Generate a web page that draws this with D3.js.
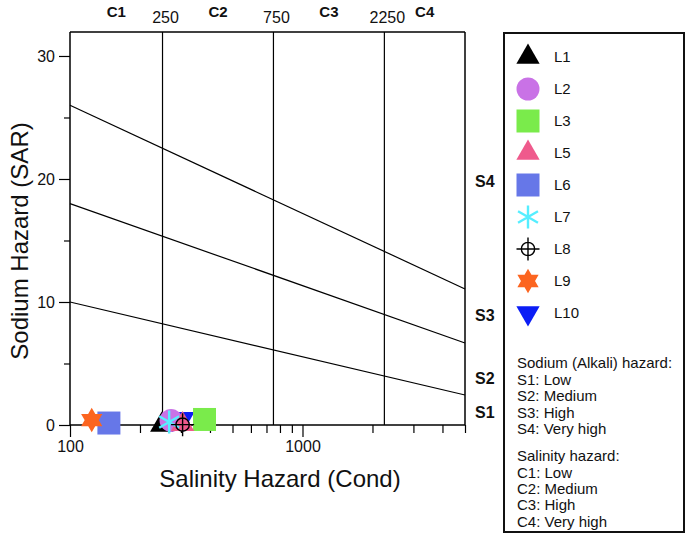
<!DOCTYPE html>
<html>
<head>
<meta charset="utf-8">
<script src="https://cdn.jsdelivr.net/npm/d3@7"></script>
<style>
  body { margin: 0; background: #fff; }
  svg { display: block; font-family: "Liberation Sans", Arial, Helvetica, sans-serif; }
</style>
</head>
<body>
<svg id="chart" width="690" height="543"></svg>
<script>
// ---------- data ----------
const categories = ["L1", "L2", "L3", "L5", "L6", "L7", "L8", "L9", "L10"];
const condValues = [248, 272, 379, 305, 147, 267, 305, 124, 306];
const sarValues  = [0.0, 0.37, 0.45, 0.05, 0.16, 0.25, 0.03, 0.4, 0.5];
const colors = ["#000000", "#c972e6", "#7aeb4b", "#ef5a8c", "#6677e8", "#55eeff", "#000000", "#fc6520", "#0b1df5"];
const symbolNames = ["triangle", "circle", "square", "triangle", "square", "asterisk", "crosshair", "hexagram", "triangleDown"];
const drawOrder = ["L1", "L10", "L2", "L3", "L5", "L6", "L7", "L8", "L9"];

const salinityBreaks = [250, 750, 2250];
const salinityClasses = ["C1", "C2", "C3", "C4"];
const xTickLabels = [100, 1000];
const xMinorTicks = [200, 300, 400, 500, 600, 700, 800, 900, 2000, 3000, 4000, 5000];
const yTickLabels = [0, 10, 20, 30];
const yMinorTicks = [5, 15, 25];

// sodium hazard boundary lines: SAR at cond = 100 and cond = 5000
const sodiumLineStart = [10, 18, 26];
const sodiumLineEnd = [2.44, 6.67, 11.06];
const sodiumClasses = ["S1", "S2", "S3", "S4"];
const sodiumLabelSar = [1.0, 3.8, 8.9, 19.8];

const legendNotes1 = ["Sodium (Alkali) hazard:", "S1: Low", "S2: Medium", "S3: High", "S4: Very high"];
const legendNotes2 = ["Salinity hazard:", "C1: Low", "C2: Medium", "C3: High", "C4: Very high"];

// ---------- layout ----------
const svg = d3.select("#chart");
const plot = { left: 70, right: 465, top: 32, bottom: 425 };
const x = d3.scaleLog().domain([100, 5000]).range([plot.left, plot.right]);
const y = d3.scaleLinear().domain([0, 31.95]).range([plot.bottom, plot.top]);

// ---------- custom symbols ----------
const hexagram = {
  draw(ctx, size) {
    const r = Math.sqrt(size) * 0.56;
    for (let k = 0; k < 2; k++) {
      const off = k === 0 ? -Math.PI / 2 : Math.PI / 2;
      for (let i = 0; i < 3; i++) {
        const a = off + i * 2 * Math.PI / 3;
        const px = r * Math.cos(a), py = r * Math.sin(a);
        if (i === 0) ctx.moveTo(px, py); else ctx.lineTo(px, py);
      }
      ctx.closePath();
    }
  }
};
const crosshair = {
  draw(ctx, size) {
    const L = Math.sqrt(size) / 2;
    const r = L * 0.58;
    ctx.moveTo(r, 0);
    ctx.arc(0, 0, r, 0, 2 * Math.PI);
    ctx.moveTo(-L, 0); ctx.lineTo(L, 0);
    ctx.moveTo(0, -L); ctx.lineTo(0, L);
  }
};
const asterisk = {
  draw(ctx, size) {
    const L = Math.sqrt(size) / 2;
    for (let i = 0; i < 3; i++) {
      const a = -Math.PI / 2 + i * Math.PI / 3;
      ctx.moveTo(L * Math.cos(a), L * Math.sin(a));
      ctx.lineTo(-L * Math.cos(a), -L * Math.sin(a));
    }
  }
};
const symbolDefs = {
  triangle:     { type: d3.symbolTriangle, size: 235, rotate: 0, fill: true },
  triangleDown: { type: d3.symbolTriangle, size: 235, rotate: 180, fill: true },
  circle:       { type: d3.symbolCircle, size: 415, rotate: 0, fill: true },
  square:       { type: d3.symbolSquare, size: 529, rotate: 0, fill: true },
  asterisk:     { type: asterisk, size: 529, rotate: 0, fill: false, width: 2.4 },
  crosshair:    { type: crosshair, size: 529, rotate: 0, fill: false, width: 1.4 },
  hexagram:     { type: hexagram, size: 480, rotate: 0, fill: true }
};
function drawSymbol(g, name, color, cx, cy) {
  const def = symbolDefs[name];
  g.append("path")
    .attr("d", d3.symbol().type(def.type).size(def.size)())
    .attr("transform", `translate(${cx},${cy}) rotate(${def.rotate})`)
    .attr("fill", def.fill ? color : "none")
    .attr("stroke", def.fill ? "none" : color)
    .attr("stroke-width", def.width || 0);
}

// ---------- frame & grid ----------
const grid = svg.append("g").attr("stroke", "#000").attr("fill", "none");
salinityBreaks.forEach(b => {
  grid.append("line").attr("x1", x(b)).attr("x2", x(b)).attr("y1", plot.top).attr("y2", plot.bottom).attr("stroke-width", 1.2);
});
const lineGen = d3.line().x(d => x(d[0])).y(d => y(d[1]));
sodiumLineStart.forEach((s, i) => {
  grid.append("path").attr("d", lineGen([[100, s], [5000, sodiumLineEnd[i]]])).attr("stroke-width", 1.2);
});
grid.append("line").attr("x1", plot.left).attr("x2", plot.right).attr("y1", plot.top).attr("y2", plot.top).attr("stroke-width", 1.5);
grid.append("line").attr("x1", plot.right).attr("x2", plot.right).attr("y1", plot.top).attr("y2", plot.bottom).attr("stroke-width", 1.5);

// ---------- axes ----------
const yAxis = svg.append("g").attr("transform", `translate(${plot.left},0)`)
  .call(d3.axisLeft(y).tickValues(yTickLabels).tickSize(11).tickPadding(4).tickFormat(d3.format("d")));
const yMinor = svg.append("g").attr("transform", `translate(${plot.left},0)`)
  .call(d3.axisLeft(y).tickValues(yMinorTicks).tickSize(6).tickFormat(""));
const xAxis = svg.append("g").attr("transform", `translate(0,${plot.bottom})`)
  .call(d3.axisBottom(x).tickValues(xTickLabels).tickSize(12).tickPadding(4).tickFormat(d3.format("d")));
const xMinor = svg.append("g").attr("transform", `translate(0,${plot.bottom})`)
  .call(d3.axisBottom(x).tickValues(xMinorTicks).tickSize(8).tickFormat(""));
[yAxis, yMinor, xAxis, xMinor].forEach(a => {
  a.select(".domain").attr("stroke-width", 1.5);
  a.selectAll(".tick line").attr("stroke-width", 1.2);
  a.selectAll(".tick text").attr("font-size", 16).attr("font-family", null).attr("fill", "#111");
});
yAxis.select(".domain").attr("d", `M0,${plot.bottom}V${plot.top}`);
yMinor.select(".domain").remove();
xMinor.select(".domain").remove();
xAxis.select(".domain").attr("d", `M${plot.left},0H${plot.right}`);

// top labels: breaks & classes
const labels = svg.append("g").attr("fill", "#111");
salinityBreaks.forEach(b => {
  labels.append("text").attr("x", x(b) + 3).attr("y", 23).attr("text-anchor", "middle").attr("font-size", 16).text(b);
});
const classEdges = [100].concat(salinityBreaks, [5000]);
salinityClasses.forEach((c, i) => {
  const mid = Math.sqrt(classEdges[i] * classEdges[i + 1]);
  labels.append("text").attr("x", x(mid)).attr("y", 17).attr("text-anchor", "middle")
    .attr("font-size", 15).attr("font-weight", "bold").text(c);
});
sodiumClasses.forEach((s, i) => {
  labels.append("text").attr("x", plot.right + 10).attr("y", y(sodiumLabelSar[i])).attr("dy", "0.35em")
    .attr("font-size", 16).attr("font-weight", "bold").text(s);
});

// axis titles
svg.append("text").attr("x", 280).attr("y", 487).attr("text-anchor", "middle")
  .attr("font-size", 24).attr("fill", "#111").text("Salinity Hazard (Cond)");
svg.append("text").attr("transform", "translate(28,241) rotate(-90)").attr("text-anchor", "middle")
  .attr("font-size", 24).attr("fill", "#111").text("Sodium Hazard (SAR)");

// ---------- points ----------
const pts = svg.append("g");
drawOrder.forEach(name => {
  const i = categories.indexOf(name);
  drawSymbol(pts, symbolNames[i], colors[i], x(condValues[i]), y(sarValues[i]));
});

// ---------- legend ----------
const leg = svg.append("g");
leg.append("rect").attr("x", 504).attr("y", 33).attr("width", 180).attr("height", 499)
  .attr("fill", "#fff").attr("stroke", "#111").attr("stroke-width", 2);
categories.forEach((c, i) => {
  const cy = 57 + i * 32;
  drawSymbol(leg, symbolNames[i], colors[i], 528, cy);
  leg.append("text").attr("x", 554).attr("y", cy).attr("dy", "0.35em").attr("font-size", 15).attr("fill", "#111").text(c);
});
legendNotes1.forEach((t, i) => {
  leg.append("text").attr("x", 517).attr("y", 363 + i * 16.5).attr("dy", "0.35em").attr("font-size", 15).attr("fill", "#111").text(t);
});
legendNotes2.forEach((t, i) => {
  leg.append("text").attr("x", 517).attr("y", 456 + i * 16.4).attr("dy", "0.35em").attr("font-size", 15).attr("fill", "#111").text(t);
});
</script>
</body>
</html>
